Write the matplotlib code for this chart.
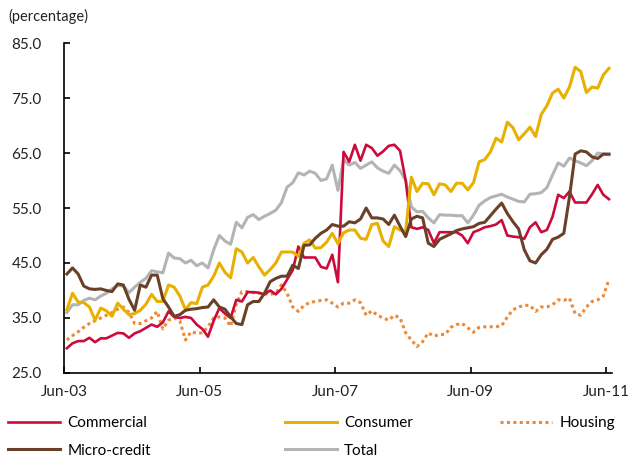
import numpy as np
import matplotlib
matplotlib.use("Agg")
import matplotlib.pyplot as plt

plt.rcParams['font.family'] = ['Lato', 'DejaVu Sans']

# monthly data, Jun-03 .. Jun-11 (97 months)
commercial = [
    29.5, 30.4, 30.8, 30.8, 31.4, 30.6, 31.3, 31.3, 31.8, 32.3, 32.2, 31.4,
    32.2, 32.6, 33.2, 33.8, 33.4, 34.2, 36.2, 35.2, 35.0, 35.2, 35.0, 33.8,
    33.0, 31.6, 34.5, 36.8, 35.8, 35.0, 38.3, 38.0, 39.7, 39.7, 39.6, 39.3,
    40.0, 39.3, 40.3, 42.0, 43.7, 48.0, 46.0, 46.0, 46.0, 44.3, 44.0, 46.5,
    41.5, 65.2, 63.4, 66.5, 63.6, 66.5, 65.9, 64.5, 65.3, 66.3, 66.5, 65.4,
    60.0, 51.5, 51.2, 51.5, 51.0, 48.6, 50.6, 50.6, 50.6, 50.6, 50.0, 48.6,
    50.6, 51.0, 51.5, 51.7, 52.0, 52.8, 50.0, 49.8, 49.7, 49.4, 51.5, 52.4,
    50.6, 51.0, 53.4, 57.4, 56.8, 58.0, 56.0, 56.0, 56.0, 57.5, 59.2, 57.4,
    56.6]
consumer = [
    36.5, 39.5, 37.9, 37.8, 37.0, 34.6, 36.8, 36.3, 35.3, 37.7, 36.6, 35.6,
    35.8, 36.4, 37.5, 39.3, 38.0, 38.0, 41.0, 40.6, 39.0, 36.5, 37.8, 37.6,
    40.6, 41.0, 42.6, 45.0, 43.3, 42.3, 47.6, 47.0, 45.0, 46.0, 44.3, 42.8,
    43.8, 45.0, 47.0, 47.0, 47.0, 46.2, 48.6, 49.2, 47.7, 47.8, 48.8, 50.4,
    48.5, 50.5, 51.0, 51.0, 49.5, 49.3, 52.0, 52.2, 49.0, 48.0, 51.6, 51.0,
    50.8, 60.6, 58.0, 59.5, 59.4, 57.4, 59.4, 59.2, 58.0, 59.5, 59.5, 58.3,
    59.6, 63.4, 63.8, 65.2, 67.7, 67.0, 70.6, 69.6, 67.4, 68.5, 69.7, 68.0,
    72.0, 73.6, 75.9, 76.6, 75.0, 77.0, 80.6, 79.8, 76.0, 77.0, 76.8, 79.2,
    80.4]
housing = [
    31.0, 31.8, 32.5, 33.3, 34.0, 34.5, 35.0, 35.5, 36.0, 36.6, 37.0, 36.0,
    34.0, 34.0, 34.5, 35.0, 36.2, 33.0, 34.6, 35.0, 34.5, 31.0, 32.5, 32.2,
    32.3, 33.4, 35.0, 35.2, 35.0, 33.5, 37.5, 39.8, 39.8, 39.6, 39.5, 39.4,
    39.3, 39.5, 41.0, 39.5, 37.0, 36.2, 37.3, 37.8, 38.0, 38.2, 38.3, 37.7,
    37.0, 37.7, 37.7, 38.3, 37.8, 35.5, 36.3, 35.5, 35.0, 34.6, 35.5, 35.0,
    32.3, 31.0, 29.8, 30.7, 32.3, 31.7, 32.0, 32.0, 33.3, 33.8, 34.0, 33.2,
    32.4, 33.3, 33.4, 33.4, 33.4, 33.6, 35.2, 36.5, 37.0, 37.3, 37.3, 36.2,
    37.0, 37.0, 37.4, 38.3, 38.2, 38.6, 35.8, 35.5, 37.0, 38.0, 38.3, 39.0,
    42.0]
micro_credit = [
    43.0, 44.1, 43.0, 40.8, 40.3, 40.2, 40.3, 40.0, 39.8, 41.2, 41.0, 38.4,
    36.4, 41.0, 40.6, 42.8, 42.8, 38.5, 37.0, 35.3, 35.6, 36.4, 36.6, 36.7,
    36.9, 37.0, 38.3, 37.0, 36.6, 35.2, 34.0, 33.8, 37.4, 38.0, 38.0, 39.5,
    41.6, 42.2, 42.6, 42.6, 44.6, 44.0, 48.2, 48.3, 49.5, 50.4, 51.0, 52.0,
    51.7, 51.7, 52.5, 52.3, 53.0, 55.0, 53.2, 53.2, 53.0, 52.0, 53.7, 51.7,
    49.8, 53.0, 53.5, 53.2, 48.6, 48.0, 49.3, 49.8, 50.3, 50.9, 51.2, 51.4,
    51.6, 52.2, 52.4, 53.6, 54.8, 55.9, 54.0, 52.5, 51.2, 47.4, 45.4, 45.0,
    46.5, 47.5, 49.3, 49.7, 50.4, 57.0, 64.8, 65.4, 65.2, 64.3, 64.0, 64.8,
    64.8]
total = [
    36.0, 37.4, 37.4, 38.2, 38.6, 38.3, 39.0, 39.5, 40.3, 40.9, 40.8, 39.6,
    40.6, 41.5, 42.2, 43.6, 43.4, 43.2, 46.8, 45.9, 45.8, 45.0, 45.5, 44.5,
    45.0, 44.1, 47.4, 50.0, 49.0, 48.4, 52.4, 51.4, 53.3, 53.8, 52.9, 53.5,
    54.0, 54.6, 56.0, 58.8, 59.6, 61.4, 61.0, 61.7, 61.3, 60.0, 60.3, 62.8,
    58.2, 63.8, 62.8, 63.3, 62.2, 62.8, 63.4, 62.3, 61.7, 61.3, 62.8, 61.8,
    60.0, 55.2, 54.3, 54.4, 53.2, 52.3, 53.8, 53.7, 53.7, 53.6, 53.6, 52.3,
    53.7, 55.5, 56.3, 56.9, 57.2, 57.5, 57.0, 56.6, 56.2, 56.1, 57.5, 57.6,
    57.8, 58.7, 61.0, 63.2, 62.6, 64.1, 63.6, 63.2, 62.7, 63.6, 65.0, 64.8,
    64.7]

tick_labels = ['Jun-03', 'Jun-05', 'Jun-07', 'Jun-09', 'Jun-11']
y_ticks = [25, 35, 45, 55, 65, 75, 85]

months = np.arange(len(total)) + 0.5

fig = plt.figure(figsize=(6.34, 4.58), dpi=100)
ax = fig.add_axes([0.101, 0.1856, 0.864, 0.7205])

l_tot, = ax.plot(months, total, color='#b4b4b4', lw=2.2, label='Total')
l_hou, = ax.plot(months, housing, color='#ee8833', lw=2.2,
                 linestyle=(0, (1, 1.1)), label='Housing')
l_com, = ax.plot(months, commercial, color='#cc0a3c', lw=1.9, label='Commercial')
l_con, = ax.plot(months, consumer, color='#e8b000', lw=2.2, label='Consumer')
l_mic, = ax.plot(months, micro_credit, color='#6b4028', lw=2.2, label='Micro-credit')

ax.set_xlim(0, 97)
ax.set_ylim(25, 85)
ax.set_xticks([0, 24, 48, 72, 96])
ax.set_xticklabels(tick_labels)
ax.set_yticks(y_ticks)
ax.set_yticklabels(['%.1f' % v for v in y_ticks])
for s in ['top', 'right']:
    ax.spines[s].set_visible(False)
for s in ['left', 'bottom']:
    ax.spines[s].set_linewidth(1.2)
ax.tick_params(direction='in', length=4, width=1.2, labelsize=11,
               labelcolor='#222222')
ax.tick_params(axis='x', pad=9)
ax.tick_params(axis='y', pad=16)

fig.text(0.013, 0.965, '(percentage)', fontsize=10.5, color='#222222',
         va='center', ha='left')

leg_kw = dict(frameon=False, fontsize=11, handlelength=3.4, handletextpad=0.5,
              labelspacing=0.9, borderpad=0, borderaxespad=0, loc='upper left')
top = 0.092
fig.legend([l_com, l_mic], ['Commercial', 'Micro-credit'],
           bbox_to_anchor=(0.012, top), **leg_kw)
fig.legend([l_con, l_tot], ['Consumer', 'Total'],
           bbox_to_anchor=(0.449, top), **leg_kw)
fig.legend([l_hou], ['Housing'],
           bbox_to_anchor=(0.789, top), **leg_kw)

fig.savefig('out.png', dpi=100)
